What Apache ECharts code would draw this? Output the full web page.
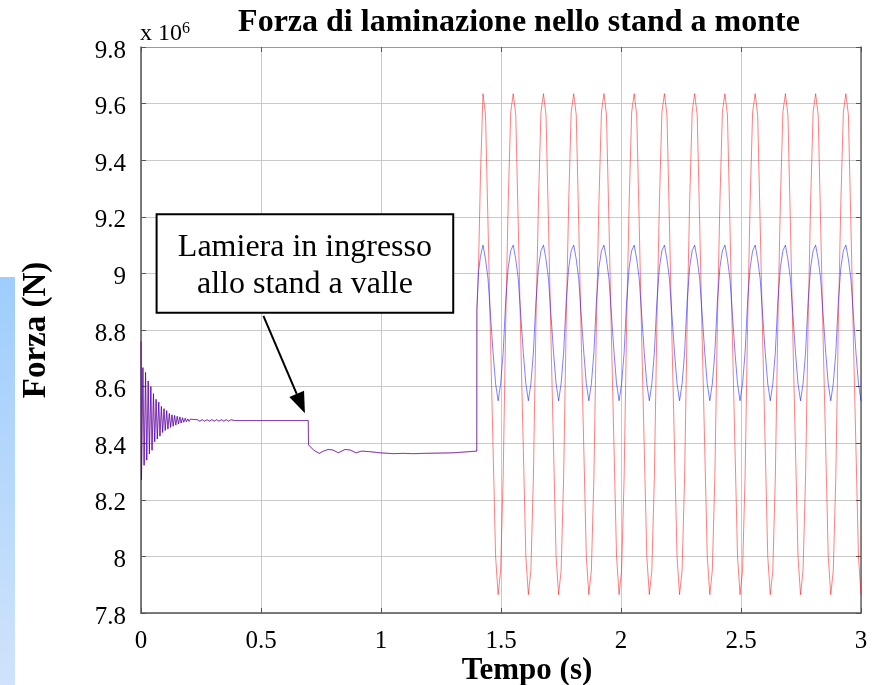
<!DOCTYPE html>
<html>
<head>
<meta charset="utf-8">
<script src="https://cdn.jsdelivr.net/npm/echarts@6/dist/echarts.min.js"></script>
<style>
  html, body { margin: 0; padding: 0; background: #fff; }
  #chart { width: 873px; height: 685px; }
</style>
</head>
<body>
<div id="chart"></div>
<script>
// Rolling force at the upstream stand (values in units of 10^6 N)

// Common trace for both signals: start-up transient, strip entering the downstream stand at ~0.7 s
const settleTime = [
  0, 0.002, 0.008, 0.013, 0.019, 0.024, 0.030, 0.035, 0.041, 0.046, 0.052, 0.057,
  0.063, 0.068, 0.074, 0.079, 0.085, 0.090, 0.096, 0.101, 0.107, 0.112, 0.118, 0.123,
  0.129, 0.134, 0.140, 0.145, 0.151, 0.156, 0.162, 0.167, 0.173, 0.178, 0.184, 0.189,
  0.195, 0.200, 0.206, 0.211, 0.217,
  0.225, 0.235, 0.245, 0.255, 0.265, 0.275, 0.285, 0.295, 0.305, 0.315, 0.325, 0.335,
  0.345, 0.355, 0.365, 0.375, 0.390,
  0.697, 0.698, 0.705, 0.720, 0.743, 0.760, 0.780, 0.800, 0.822, 0.850, 0.871, 0.896,
  0.919, 0.954, 0.996, 1.051, 1.093, 1.135, 1.176, 1.300, 1.308, 1.399
];
const settleForce = [
  8.760, 8.270, 8.667, 8.322, 8.650, 8.340, 8.620, 8.362, 8.600, 8.375, 8.575, 8.405,
  8.555, 8.415, 8.545, 8.425, 8.530, 8.438, 8.522, 8.445, 8.515, 8.450, 8.505, 8.456,
  8.500, 8.460, 8.498, 8.464, 8.495, 8.468, 8.493, 8.471, 8.490, 8.474, 8.488, 8.476,
  8.486, 8.477, 8.485, 8.478, 8.484,
  8.478, 8.483, 8.478, 8.483, 8.478, 8.483, 8.478, 8.483, 8.478, 8.483, 8.478, 8.483,
  8.478, 8.483, 8.478, 8.483, 8.480,
  8.480, 8.394, 8.390, 8.375, 8.364, 8.372, 8.378, 8.376, 8.366, 8.378, 8.376, 8.366,
  8.372, 8.370, 8.366, 8.363, 8.364, 8.363, 8.364, 8.366, 8.372, 8.372
];

// Oscillating regime after ~1.4 s (one row per cycle)
const oscTime = [
  1.3995, 1.407, 1.4145,
  1.425, 1.4355, 1.446, 1.4565, 1.467, 1.4775, 1.488, 1.4985, 1.509, 1.5195, 1.530, 1.5405,
  1.551, 1.5615, 1.572, 1.5825, 1.593, 1.6035, 1.614, 1.6245, 1.635, 1.6455, 1.656, 1.6665,
  1.677, 1.6875, 1.698, 1.7085, 1.719, 1.7295, 1.740, 1.7505, 1.761, 1.7715, 1.782, 1.7925,
  1.803, 1.8135, 1.824, 1.8345, 1.845, 1.8555, 1.866, 1.8765, 1.887, 1.8975, 1.908, 1.9185,
  1.929, 1.9395, 1.950, 1.9605, 1.971, 1.9815, 1.992, 2.0025, 2.013, 2.0235, 2.034, 2.0445,
  2.055, 2.0655, 2.076, 2.0865, 2.097, 2.1075, 2.118, 2.1285, 2.139, 2.1495, 2.160, 2.1705,
  2.181, 2.1915, 2.202, 2.2125, 2.223, 2.2335, 2.244, 2.2545, 2.265, 2.2755, 2.286, 2.2965,
  2.307, 2.3175, 2.328, 2.3385, 2.349, 2.3595, 2.370, 2.3805, 2.391, 2.4015, 2.412, 2.4225,
  2.433, 2.4435, 2.454, 2.4645, 2.475, 2.4855, 2.496, 2.5065, 2.517, 2.5275, 2.538, 2.5485,
  2.559, 2.5695, 2.580, 2.5905, 2.601, 2.6115, 2.622, 2.6325, 2.643, 2.6535, 2.664, 2.6745,
  2.685, 2.6955, 2.706, 2.7165, 2.727, 2.7375, 2.748, 2.7585, 2.769, 2.7795, 2.790, 2.8005,
  2.811, 2.8215, 2.832, 2.8425, 2.853, 2.8635, 2.874, 2.8845, 2.895, 2.9055, 2.916, 2.9265,
  2.937, 2.9475, 2.958, 2.9685, 2.979, 2.9895, 3.000
];
const redForce = [
  8.87, 9.05, 9.35,
  9.635, 9.56, 9.17, 8.76, 8.38, 8.00, 7.865, 7.95, 8.28, 8.82, 9.25, 9.57,
  9.635, 9.56, 9.17, 8.76, 8.38, 8.00, 7.865, 7.95, 8.28, 8.82, 9.25, 9.57,
  9.635, 9.56, 9.17, 8.76, 8.38, 8.00, 7.865, 7.95, 8.28, 8.82, 9.25, 9.57,
  9.635, 9.56, 9.17, 8.76, 8.38, 8.00, 7.865, 7.95, 8.28, 8.82, 9.25, 9.57,
  9.635, 9.56, 9.17, 8.76, 8.38, 8.00, 7.865, 7.95, 8.28, 8.82, 9.25, 9.57,
  9.635, 9.56, 9.17, 8.76, 8.38, 8.00, 7.865, 7.95, 8.28, 8.82, 9.25, 9.57,
  9.635, 9.56, 9.17, 8.76, 8.38, 8.00, 7.865, 7.95, 8.28, 8.82, 9.25, 9.57,
  9.635, 9.56, 9.17, 8.76, 8.38, 8.00, 7.865, 7.95, 8.28, 8.82, 9.25, 9.57,
  9.635, 9.56, 9.17, 8.76, 8.38, 8.00, 7.865, 7.95, 8.28, 8.82, 9.25, 9.57,
  9.635, 9.56, 9.17, 8.76, 8.38, 8.00, 7.865, 7.95, 8.28, 8.82, 9.25, 9.57,
  9.635, 9.56, 9.17, 8.76, 8.38, 8.00, 7.865, 7.95, 8.28, 8.82, 9.25, 9.57,
  9.635, 9.56, 9.17, 8.76, 8.38, 8.00, 7.865, 7.95, 8.28, 8.82, 9.25, 9.57,
  9.635, 9.56, 9.17, 8.76, 8.38, 8.00, 7.865
];
const blueForce = [
  8.87, 9.01, 9.06,
  9.10, 9.05, 8.98, 8.85, 8.72, 8.61, 8.55, 8.61, 8.72, 8.90, 9.02, 9.08,
  9.10, 9.05, 8.98, 8.85, 8.72, 8.61, 8.55, 8.61, 8.72, 8.90, 9.02, 9.08,
  9.10, 9.05, 8.98, 8.85, 8.72, 8.61, 8.55, 8.61, 8.72, 8.90, 9.02, 9.08,
  9.10, 9.05, 8.98, 8.85, 8.72, 8.61, 8.55, 8.61, 8.72, 8.90, 9.02, 9.08,
  9.10, 9.05, 8.98, 8.85, 8.72, 8.61, 8.55, 8.61, 8.72, 8.90, 9.02, 9.08,
  9.10, 9.05, 8.98, 8.85, 8.72, 8.61, 8.55, 8.61, 8.72, 8.90, 9.02, 9.08,
  9.10, 9.05, 8.98, 8.85, 8.72, 8.61, 8.55, 8.61, 8.72, 8.90, 9.02, 9.08,
  9.10, 9.05, 8.98, 8.85, 8.72, 8.61, 8.55, 8.61, 8.72, 8.90, 9.02, 9.08,
  9.10, 9.05, 8.98, 8.85, 8.72, 8.61, 8.55, 8.61, 8.72, 8.90, 9.02, 9.08,
  9.10, 9.05, 8.98, 8.85, 8.72, 8.61, 8.55, 8.61, 8.72, 8.90, 9.02, 9.08,
  9.10, 9.05, 8.98, 8.85, 8.72, 8.61, 8.55, 8.61, 8.72, 8.90, 9.02, 9.08,
  9.10, 9.05, 8.98, 8.85, 8.72, 8.61, 8.55, 8.61, 8.72, 8.90, 9.02, 9.08,
  9.10, 9.05, 8.98, 8.85, 8.72, 8.61, 8.55
];

// Axis ranges and tick labels
const timeTicks = [0, 0.5, 1, 1.5, 2, 2.5, 3];
const forceTicks = [7.8, 8, 8.2, 8.4, 8.6, 8.8, 9, 9.2, 9.4, 9.6, 9.8];

const titleText = 'Forza di laminazione nello stand a monte';
const xName = 'Tempo (s)';
const yName = 'Forza (N)';
const noteLines = ['Lamiera in ingresso', 'allo stand a valle'];

// Annotation anchors in data units (time, force)
const noteBox = { t0: 0.065, t1: 1.301, v0: 9.209, v1: 8.861 };
const arrowTail = [0.510, 8.850];
const arrowTip = [0.683, 8.506];

function zip(ts, vs) {
  const out = [];
  const n = Math.min(ts.length, vs.length);
  for (let i = 0; i < n; i++) out.push([ts[i], vs[i]]);
  return out;
}
const redData = zip(settleTime, settleForce).concat(zip(oscTime, redForce));
const blueData = zip(settleTime, settleForce).concat(zip(oscTime, blueForce));

const SERIF = "'Liberation Serif', 'Times New Roman', serif";
const fmt = v => String(Math.round(v * 10) / 10);

const chart = echarts.init(document.getElementById('chart'), null, { renderer: 'canvas' });

const baseAxis = {
  type: 'value',
  splitLine: { show: false },
  axisTick: { show: true, inside: true, length: 5, lineStyle: { color: '#555', width: 1 } },
  axisLabel: { show: false }
};

const option = {
  animation: false,
  backgroundColor: '#ffffff',
  grid: { left: 141, right: 12, top: 47, bottom: 72, containLabel: false, outerBoundsMode: 'none' },
  xAxis: [
    Object.assign({}, baseAxis, {
      min: timeTicks[0], max: timeTicks[timeTicks.length - 1], interval: 0.5,
      position: 'bottom',
      axisLine: { show: true, onZero: false, lineStyle: { color: '#555', width: 1.5 } },
      axisLabel: {
        show: true, color: '#000', fontFamily: SERIF, fontSize: 25, margin: 16,
        showMinLabel: true, showMaxLabel: true, formatter: fmt
      },
      splitLine: { show: true, lineStyle: { color: '#c9c9c9', width: 1 } },
      name: xName, nameLocation: 'middle', nameGap: 42, nameMoveOverlap: false,
      nameTextStyle: { color: '#000', fontFamily: SERIF, fontWeight: 'bold', fontSize: 31, padding: [0, 0, 0, 52] }
    }),
    Object.assign({}, baseAxis, {
      min: timeTicks[0], max: timeTicks[timeTicks.length - 1], interval: 0.5,
      position: 'top',
      axisLine: { show: true, onZero: false, lineStyle: { color: '#9a9a9a', width: 1 } }
    })
  ],
  yAxis: [
    Object.assign({}, baseAxis, {
      min: forceTicks[0], max: forceTicks[forceTicks.length - 1], interval: 0.2,
      position: 'left',
      axisLine: { show: true, onZero: false, lineStyle: { color: '#555', width: 1.5 } },
      axisLabel: {
        show: true, color: '#000', margin: 15,
        showMinLabel: true, showMaxLabel: true,
        formatter: v => '{n|' + fmt(v) + '}',
        rich: { n: { fontFamily: SERIF, fontSize: 25, color: '#000', padding: [8, 0, 0, 0] } }
      },
      splitLine: { show: true, lineStyle: { color: '#c9c9c9', width: 1 } },
      name: yName, nameLocation: 'middle', nameGap: 88, nameMoveOverlap: false,
      nameTextStyle: { color: '#000', fontFamily: SERIF, fontWeight: 'bold', fontSize: 33 }
    }),
    Object.assign({}, baseAxis, {
      min: forceTicks[0], max: forceTicks[forceTicks.length - 1], interval: 0.2,
      position: 'right',
      axisLine: { show: true, onZero: false, lineStyle: { color: '#666', width: 1.5 } }
    })
  ],
  series: [
    {
      name: 'red', type: 'line', xAxisIndex: 0, yAxisIndex: 0,
      data: redData, symbol: 'none', showSymbol: false, z: 2,
      lineStyle: { color: 'rgba(255,0,0,0.5)', width: 1 }
    },
    {
      name: 'blue', type: 'line', xAxisIndex: 0, yAxisIndex: 0,
      data: blueData, symbol: 'none', showSymbol: false, z: 3,
      lineStyle: { color: 'rgba(0,0,255,0.5)', width: 1 }
    }
  ]
};
chart.setOption(option);

// Decorations placed from the axes' own scale
const px = (t, v) => chart.convertToPixel({ xAxisIndex: 0, yAxisIndex: 0 }, [t, v]);
const boxA = px(noteBox.t0, noteBox.v0);
const boxB = px(noteBox.t1, noteBox.v1);
const tail = px(arrowTail[0], arrowTail[1]);
const tip = px(arrowTip[0], arrowTip[1]);
const ang = Math.atan2(tip[1] - tail[1], tip[0] - tail[0]);
const headLen = 21, headHalf = 8;
const baseX = tip[0] - headLen * Math.cos(ang), baseY = tip[1] - headLen * Math.sin(ang);
const nx = -Math.sin(ang), ny = Math.cos(ang);
const boxCx = (boxA[0] + boxB[0]) / 2;
const plotTopLeft = px(timeTicks[0], forceTicks[forceTicks.length - 1]);

chart.setOption({
  graphic: [
    {
      type: 'rect', silent: true, z: -1,
      shape: { x: 0, y: 277, width: 15, height: 408 },
      style: {
        fill: new echarts.graphic.LinearGradient(0, 0, 0, 1, [
          { offset: 0, color: '#9fcdfd' },
          { offset: 1, color: '#cfe3fb' }
        ])
      }
    },
    {
      type: 'text', silent: true,
      x: 519, y: 23,
      style: {
        text: titleText, fill: '#000', font: "bold 32px 'Liberation Serif', 'Times New Roman', serif",
        align: 'center', verticalAlign: 'middle'
      }
    },
    {
      type: 'text', silent: true,
      x: plotTopLeft[0] - 1, y: 47,
      style: {
        text: 'x 10{sup|6}', fill: '#000', font: "24px 'Liberation Serif', 'Times New Roman', serif",
        align: 'left', verticalAlign: 'bottom',
        rich: { sup: { fontSize: 16, fontFamily: SERIF, fill: '#000', verticalAlign: 'top', padding: [0, 0, 10, 0] } }
      }
    },
    {
      type: 'rect', silent: true, z: 10,
      shape: { x: boxA[0], y: boxA[1], width: boxB[0] - boxA[0], height: boxB[1] - boxA[1] },
      style: { fill: '#fff', stroke: '#000', lineWidth: 2 }
    },
    {
      type: 'text', silent: true, z: 11,
      x: boxCx, y: boxA[1] + 33,
      style: { text: noteLines[0], fill: '#000', font: "32px 'Liberation Serif', 'Times New Roman', serif", align: 'center', verticalAlign: 'middle' }
    },
    {
      type: 'text', silent: true, z: 11,
      x: boxCx, y: boxA[1] + 70,
      style: { text: noteLines[1], fill: '#000', font: "32px 'Liberation Serif', 'Times New Roman', serif", align: 'center', verticalAlign: 'middle' }
    },
    {
      type: 'line', silent: true, z: 11,
      shape: { x1: tail[0], y1: tail[1], x2: baseX, y2: baseY },
      style: { stroke: '#000', lineWidth: 2 }
    },
    {
      type: 'polygon', silent: true, z: 11,
      shape: { points: [[tip[0], tip[1]], [baseX + nx * headHalf, baseY + ny * headHalf], [baseX - nx * headHalf, baseY - ny * headHalf]] },
      style: { fill: '#000' }
    }
  ]
});
</script>
</body>
</html>
